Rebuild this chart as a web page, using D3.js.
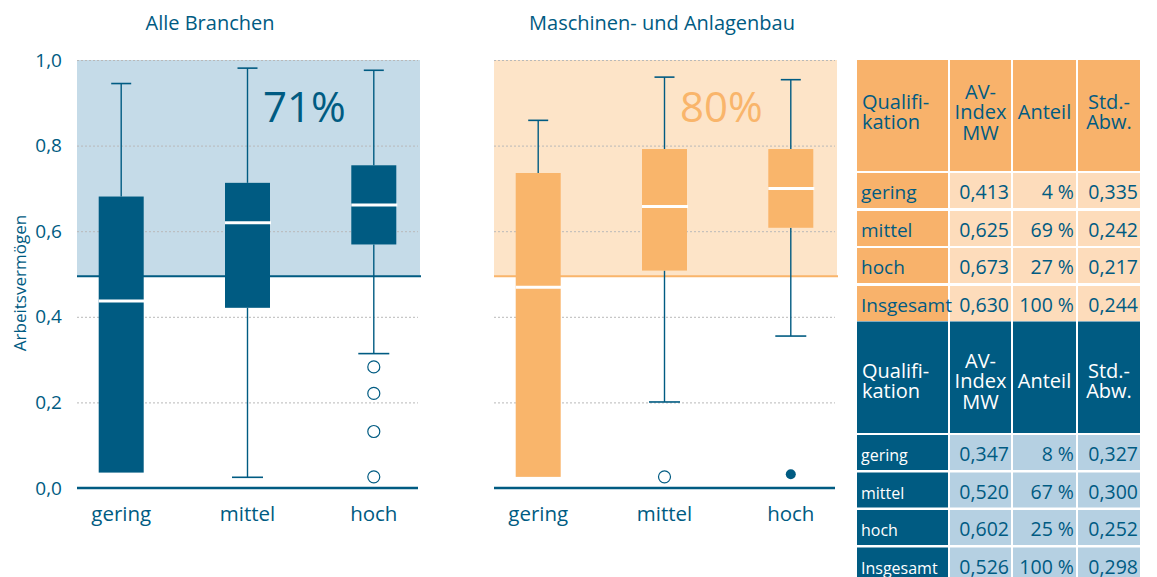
<!DOCTYPE html>
<html><head><meta charset="utf-8">
<script src="https://cdn.jsdelivr.net/npm/d3@7"></script>
<style>
html,body{margin:0;padding:0;background:#fff;}
svg{display:block;font-family:"Open Sans",sans-serif;}
</style></head>
<body>
<svg id="c" width="1157" height="577"></svg>
<script>
// ---------- data ----------
const categories = ["gering", "mittel", "hoch"];
const yTicks = [0, 0.2, 0.4, 0.6, 0.8, 1.0];
const chartTitles = ["Alle Branchen", "Maschinen- und Anlagenbau"];
const shareLabels = ["71%", "80%"];
const thresholds = [0.495, 0.495];
const yAxisLabel = "Arbeitsvermögen";

// Alle Branchen
const allWhiskerHigh = [0.945, 0.981, 0.976];
const allQ3 = [0.681, 0.713, 0.754];
const allMedian = [0.437, 0.620, 0.661];
const allQ1 = [0.036, 0.421, 0.569];
const allWhiskerLow = [0.036, 0.025, 0.314];
const allOutliers = [[], [], [0.283, 0.221, 0.132, 0.026]];
const allExtremes = [[], [], []];

// Maschinen- und Anlagenbau
const machWhiskerHigh = [0.859, 0.960, 0.954];
const machQ3 = [0.736, 0.792, 0.792];
const machMedian = [0.469, 0.658, 0.700];
const machQ1 = [0.026, 0.508, 0.608];
const machWhiskerLow = [0.026, 0.201, 0.355];
const machOutliers = [[], [0.026], []];
const machExtremes = [[], [], [0.032]];

// tables
const tableHeader = [["Qualifi-", "kation"], ["AV-", "Index", "MW"], ["Anteil"], ["Std.-", "Abw."]];
const rowLabels = ["gering", "mittel", "hoch", "Insgesamt"];
const machMean = ["0,413", "0,625", "0,673", "0,630"];
const machShare = ["4 %", "69 %", "27 %", "100 %"];
const machSd = ["0,335", "0,242", "0,217", "0,244"];
const allMean = ["0,347", "0,520", "0,602", "0,526"];
const allShare = ["8  %", "67 %", "25 %", "100 %"];
const allSd = ["0,327", "0,300", "0,252", "0,298"];

// ---------- styles ----------
const C = {
  blue: "#005b82", lightBlue: "#c5dbe8", orange: "#f9b56b", lightOrange: "#fde4c8",
  tOrange: "#f8b26b", tLightOrange: "#fddcbb", tLightBlue: "#b5d0e2", grid: "#b9b9b9"
};

const svg = d3.select("#c");
const y = d3.scaleLinear().domain([0, 1]).range([488, 60]);

const charts = [
  {x0: 77, x1: 418, shadeRight: 420, title: chartTitles[0], titleX: 210, share: shareLabels[0], thr: thresholds[0],
   boxFill: C.blue, shade: C.lightBlue, thrColor: C.blue, shareColor: C.blue,
   hi: allWhiskerHigh, q3: allQ3, med: allMedian, q1: allQ1, lo: allWhiskerLow, out: allOutliers, ext: allExtremes, axis: true},
  {x0: 494, x1: 835, shadeRight: 837, title: chartTitles[1], titleX: 662, share: shareLabels[1], thr: thresholds[1],
   boxFill: C.orange, shade: C.lightOrange, thrColor: C.orange, shareColor: C.orange,
   hi: machWhiskerHigh, q3: machQ3, med: machMedian, q1: machQ1, lo: machWhiskerLow, out: machOutliers, ext: machExtremes, axis: false}
];

charts.forEach(ch => {
  const g = svg.append("g");
  const x = d3.scalePoint().domain(categories).range([ch.x0, ch.x1]).padding(0.35);
  // shaded area above threshold
  g.append("rect").attr("x", ch.x0).attr("y", y(1)).attr("width", ch.shadeRight - ch.x0)
    .attr("height", y(ch.thr) - y(1)).attr("fill", ch.shade);
  // grid
  g.selectAll(".grid").data(yTicks.filter(d => d > 0)).join("line")
    .attr("x1", ch.x0).attr("x2", ch.x1).attr("y1", d => y(d) + 0.5).attr("y2", d => y(d) + 0.5)
    .attr("stroke", C.grid).attr("stroke-width", 1).attr("stroke-dasharray", "2,2");
  // threshold line
  g.append("line").attr("x1", ch.x0).attr("x2", ch.shadeRight + 1)
    .attr("y1", y(ch.thr)).attr("y2", y(ch.thr)).attr("stroke", ch.thrColor).attr("stroke-width", 2);
  // title
  g.append("text").attr("x", ch.titleX).attr("y", 30).attr("text-anchor", "middle")
    .attr("font-size", 20).attr("fill", C.blue).text(ch.title);
  // share label
  g.append("text").attr("x", ch.x0 + (ch.x1 - ch.x0) * 2 / 3).attr("y", y(0.855))
    .attr("text-anchor", "middle").attr("font-size", 42).attr("fill", ch.shareColor).text(ch.share);

  const bw = 45, capHi = 20, capLo = 31;
  categories.forEach((c, i) => {
    const cx = x(c);
    // upper whisker
    g.append("line").attr("x1", cx).attr("x2", cx).attr("y1", y(ch.hi[i])).attr("y2", y(ch.q3[i]))
      .attr("stroke", C.blue).attr("stroke-width", 1.4);
    g.append("line").attr("x1", cx - capHi / 2).attr("x2", cx + capHi / 2).attr("y1", y(ch.hi[i])).attr("y2", y(ch.hi[i]))
      .attr("stroke", C.blue).attr("stroke-width", 1.6);
    // lower whisker
    if (ch.lo[i] < ch.q1[i]) {
      g.append("line").attr("x1", cx).attr("x2", cx).attr("y1", y(ch.q1[i])).attr("y2", y(ch.lo[i]))
        .attr("stroke", C.blue).attr("stroke-width", 1.4);
      g.append("line").attr("x1", cx - capLo / 2).attr("x2", cx + capLo / 2).attr("y1", y(ch.lo[i])).attr("y2", y(ch.lo[i]))
        .attr("stroke", C.blue).attr("stroke-width", 1.6);
    }
    // box
    g.append("rect").attr("x", cx - bw / 2).attr("y", y(ch.q3[i])).attr("width", bw)
      .attr("height", y(ch.q1[i]) - y(ch.q3[i])).attr("fill", ch.boxFill);
    // median
    g.append("line").attr("x1", cx - bw / 2).attr("x2", cx + bw / 2 + 1).attr("y1", y(ch.med[i])).attr("y2", y(ch.med[i]))
      .attr("stroke", "#fff").attr("stroke-width", 3);
    // outliers
    g.selectAll(null).data(ch.out[i]).join("circle").attr("cx", cx).attr("cy", d => y(d)).attr("r", 6)
      .attr("fill", "#fff").attr("stroke", C.blue).attr("stroke-width", 1.2);
    g.selectAll(null).data(ch.ext[i]).join("circle").attr("cx", cx).attr("cy", d => y(d)).attr("r", 5)
      .attr("fill", C.blue);
  });
  // baseline
  g.append("line").attr("x1", ch.x0).attr("x2", ch.x1).attr("y1", y(0)).attr("y2", y(0))
    .attr("stroke", C.blue).attr("stroke-width", 2.5);
  // category labels
  g.selectAll(".cat").data(categories).join("text").attr("x", d => x(d)).attr("y", 521)
    .attr("text-anchor", "middle").attr("font-size", 20.5).attr("fill", C.blue).text(d => d);
  if (ch.axis) {
    g.selectAll(".tick").data(yTicks).join("text").attr("x", 62).attr("y", d => y(d) + 6.5)
      .attr("text-anchor", "end").attr("font-size", 19).attr("fill", C.blue)
      .text(d => d3.format(".1f")(d).replace(".", ","));
    g.append("text").attr("transform", "translate(26,283) rotate(-90)").attr("text-anchor", "middle")
      .attr("font-size", 17).attr("fill", C.blue).text(yAxisLabel);
  }
});

// ---------- tables ----------
const colX = [857, 950, 1013, 1078, 1142];
function drawTable(top, rowTops, rowH, headerFill, headerText, labelFill, labelText, cellFill, mean, share, sd, labelSize, headerBase) {
  const g = svg.append("g");
  const headerH = rowTops[0] - 2 - top;
  // header
  tableHeader.forEach((lines, j) => {
    g.append("rect").attr("x", colX[j]).attr("y", top).attr("width", colX[j + 1] - colX[j] - 2)
      .attr("height", headerH).attr("fill", headerFill);
    const cx = j === 0 ? colX[0] + 5 : (colX[j] + colX[j + 1] - 2) / 2;
    const n = lines.length;
    const t = g.append("text").attr("x", cx).attr("y", headerBase - (n - 1) / 2 * 20.5)
      .attr("text-anchor", j === 0 ? "start" : "middle").attr("font-size", 20)
      .attr("fill", headerText);
    lines.forEach((s, k) => {
      t.append("tspan").attr("x", cx).attr("dy", k === 0 ? 0 : 20.5).text(s);
    });
  });
  rowLabels.forEach((lab, i) => {
    const ry = rowTops[i];
    g.append("rect").attr("x", colX[0]).attr("y", ry).attr("width", colX[1] - colX[0] - 2).attr("height", rowH).attr("fill", labelFill);
    for (let j = 1; j < 4; j++) {
      g.append("rect").attr("x", colX[j]).attr("y", ry).attr("width", colX[j + 1] - colX[j] - 2).attr("height", rowH).attr("fill", cellFill);
    }
    const base = ry + rowH - 9;
    g.append("text").attr("x", colX[0] + 4).attr("y", base).attr("font-size", labelSize).attr("fill", labelText).text(lab);
    [mean, share, sd].forEach((arr, j) => {
      g.append("text").attr("x", colX[j + 2] - 4).attr("y", base).attr("text-anchor", "end")
        .attr("font-size", 19.5).attr("fill", C.blue).text(arr[i]);
    });
  });
}
drawTable(60, [173, 211, 248, 286], 35, C.tOrange, C.blue, C.tOrange, C.blue, C.tLightOrange,
  machMean, machShare, machSd, 19, 119);
drawTable(321.5, [435, 472.5, 510, 547.5], 35, C.blue, "#fff", C.blue, "#fff", C.tLightBlue,
  allMean, allShare, allSd, 16, 388);
</script>
</body></html>
